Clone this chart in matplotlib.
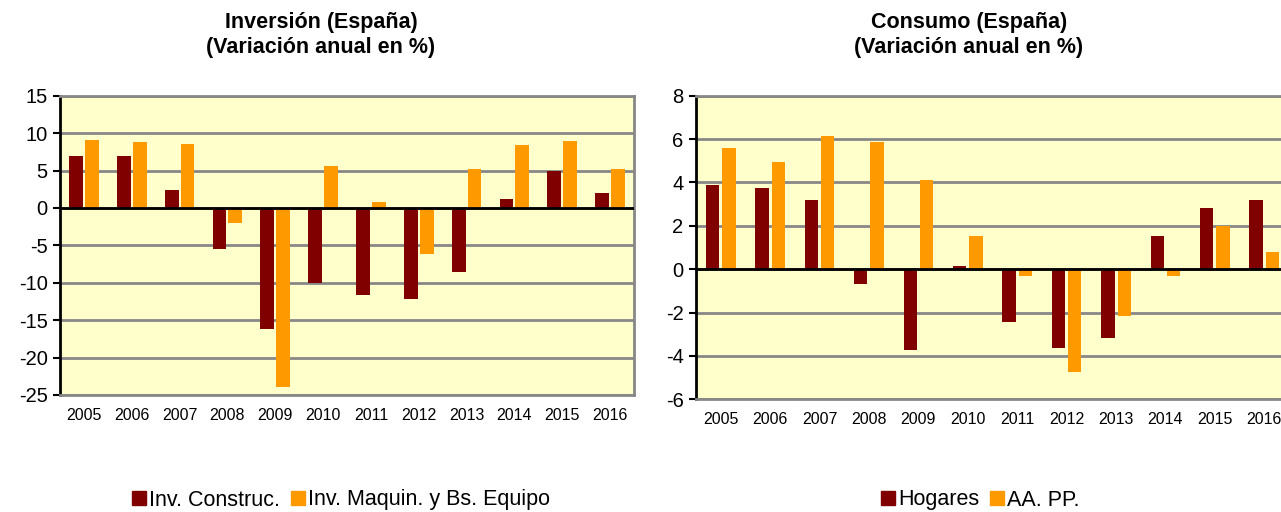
import matplotlib.pyplot as plt
from matplotlib.patches import Patch
import numpy as np

plt.rcParams['font.family'] = ['Liberation Sans', 'DejaVu Sans']
plt.rcParams['axes.unicode_minus'] = False

years = ['2005', '2006', '2007', '2008', '2009', '2010',
         '2011', '2012', '2013', '2014', '2015', '2016']

# Inversion (Espana)
inv_construc = [7.0, 7.0, 2.45, -5.5, -16.2, -10.0, -11.7, -12.2, -8.5, 1.15, 4.9, 1.95]
inv_maquin = [9.1, 8.85, 8.6, -2.05, -23.9, 5.65, 0.85, -6.1, 5.2, 8.4, 8.9, 5.2]

# Consumo (Espana)
hogares = [3.9, 3.73, 3.18, -0.68, -3.72, 0.14, -2.44, -3.64, -3.18, 1.52, 2.8, 3.17]
aapp = [5.58, 4.93, 6.13, 5.87, 4.1, 1.52, -0.32, -4.75, -2.17, -0.32, 1.98, 0.78]

dark = '#800000'
orange = '#FF9900'
bg = '#FFFFCC'
grid = '#888888'

W, H = 1281, 512
fig = plt.figure(figsize=(W / 100, H / 100), dpi=100)


def panel(rect, s1, s2, ylim, ystep, bw):
    ax = fig.add_axes(rect)
    x = np.arange(len(years))
    ax.set_facecolor(bg)
    ax.bar(x - 0.165, s1, width=bw, color=dark, zorder=3)
    ax.bar(x + 0.165, s2, width=bw, color=orange, zorder=3)
    ax.axhline(0, color='black', linewidth=2, zorder=4)
    ax.set_xlim(-0.5, len(years) - 0.5)
    ax.set_ylim(*ylim)
    ax.set_yticks(np.arange(ylim[0], ylim[1] + ystep / 2, ystep))
    ax.yaxis.grid(True, color=grid, linewidth=2, zorder=1)
    ax.set_axisbelow(True)
    ax.set_xticks(x)
    ax.set_xticklabels(years, fontsize=11.5)
    ax.tick_params(axis='x', length=0, pad=9)
    ax.tick_params(axis='y', labelsize=14.5, length=5, width=1.5, direction='out', pad=4)
    for s in ['top', 'right', 'bottom']:
        ax.spines[s].set_color(grid)
        ax.spines[s].set_linewidth(2)
    ax.spines['left'].set_color('black')
    ax.spines['left'].set_linewidth(2)
    return ax


ax1 = panel([60 / W, (H - 395) / H, 574 / W, 299.3 / H],
            inv_construc, inv_maquin, (-25, 15), 5, 0.29)
ax2 = panel([696 / W, (H - 399.3) / H, 593 / W, 303.6 / H],
            hogares, aapp, (-6, 8), 2, 0.27)

fig.text(321 / W, 1 - 35 / H, 'Inversión (España)\n(Variación anual en %)',
         ha='center', va='center', fontsize=15.5, fontweight='bold', linespacing=1.3)
fig.text(969 / W, 1 - 35 / H, 'Consumo (España)\n(Variación anual en %)',
         ha='center', va='center', fontsize=15.5, fontweight='bold', linespacing=1.3)

leg_kw = dict(loc='center', frameon=False, ncol=2, fontsize=15.5,
              handlelength=0.65, handleheight=0.65, handletextpad=0.15,
              columnspacing=0.5)
fig.legend(handles=[Patch(color=dark, label='Inv. Construc.'),
                    Patch(color=orange, label='Inv. Maquin. y Bs. Equipo')],
           bbox_to_anchor=(341 / W, 1 - 500 / H), **leg_kw)
fig.legend(handles=[Patch(color=dark, label='Hogares'),
                    Patch(color=orange, label='AA. PP.')],
           bbox_to_anchor=(980 / W, 1 - 500 / H), **leg_kw)

fig.savefig('out.png', dpi=100)
